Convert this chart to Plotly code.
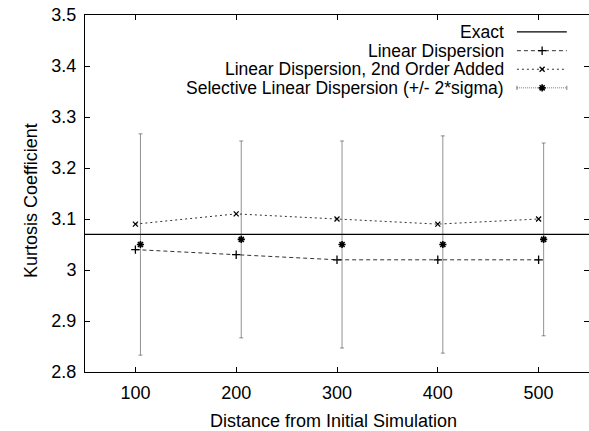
import plotly.graph_objects as go

distance = [100, 200, 300, 400, 500]
selective_x = [105, 205, 305, 405, 505]
exact_value = 3.07
linear = [3.04, 3.03, 3.02, 3.02, 3.02]
second_order = [3.09, 3.11, 3.10, 3.09, 3.10]
selective = [3.05, 3.06, 3.05, 3.05, 3.06]
selective_2sigma = [0.217, 0.193, 0.203, 0.213, 0.189]
y_ticks = [2.8, 2.9, 3.0, 3.1, 3.2, 3.3, 3.4, 3.5]
y_tick_labels = ["2.8", "2.9", "3", "3.1", "3.2", "3.3", "3.4", "3.5"]
x_ticks = [100, 200, 300, 400, 500]

names = ["Exact", "Linear Dispersion", "Linear Dispersion, 2nd Order Added",
         "Selective Linear Dispersion (+/- 2*sigma)"]

FONT = "Liberation Sans, Arial, Helvetica, sans-serif"
FS = 18
LFS = 17.5
INK = "#333333"

fig = go.Figure()

fig.add_trace(go.Scatter(x=[50, 550], y=[exact_value, exact_value], mode="lines",
                         line=dict(color="black", width=1.3), showlegend=False))
fig.add_trace(go.Scatter(x=distance, y=linear, mode="lines+markers",
                         line=dict(color=INK, width=1, dash="4px,3px"),
                         marker=dict(symbol="cross-thin", size=6, line=dict(color="black", width=1.3)),
                         showlegend=False))
fig.add_trace(go.Scatter(x=distance, y=second_order, mode="lines+markers",
                         line=dict(color=INK, width=1, dash="2px,3px"),
                         marker=dict(symbol="x-thin", size=5, line=dict(color="black", width=1.3)),
                         showlegend=False))
fig.add_trace(go.Scatter(x=selective_x, y=selective, mode="markers",
                         marker=dict(symbol="asterisk", size=6, line=dict(color="black", width=1.6)),
                         error_y=dict(type="data", array=selective_2sigma, visible=True,
                                      color="rgba(40,40,40,0.5)", thickness=1, width=2),
                         showlegend=False))

# Legend drawn gnuplot-style (text left of sample) on an overlay axis in [0,1]
ly = [0.953, 0.900, 0.848, 0.796]
x0, x1, xm = 0.857, 0.956, 0.907
styles = [
    dict(line=dict(color="black", width=1.3), sym=None),
    dict(line=dict(color=INK, width=1, dash="4px,3px"), sym=("cross-thin", 6, 1.3)),
    dict(line=dict(color=INK, width=1, dash="2px,3px"), sym=("x-thin", 5, 1.3)),
    dict(line=dict(color="rgba(40,40,40,0.6)", width=1, dash="1px,1px"), sym=("asterisk", 6, 1.6)),
]
for i, (name, st) in enumerate(zip(names, styles)):
    fig.add_trace(go.Scatter(x=[x0, x1], y=[ly[i], ly[i]], mode="lines", line=st["line"],
                             xaxis="x2", yaxis="y2", showlegend=False, hoverinfo="skip"))
    if st["sym"]:
        s, sz, w = st["sym"]
        fig.add_trace(go.Scatter(x=[xm], y=[ly[i]], mode="markers",
                                 marker=dict(symbol=s, size=sz, line=dict(color="black", width=w)),
                                 xaxis="x2", yaxis="y2", showlegend=False, hoverinfo="skip"))
    fig.add_annotation(x=0.833, y=ly[i], xref="x2", yref="y2", text=name, showarrow=False,
                       xanchor="right", yanchor="middle", borderpad=0,
                       font=dict(size=LFS, color="black", family=FONT))
# end ticks of the error-bar sample
fig.add_trace(go.Scatter(x=[x0, x0, None, x1, x1], y=[ly[3] - 0.006, ly[3] + 0.006, None, ly[3] - 0.006, ly[3] + 0.006],
                         mode="lines", line=dict(color="rgba(40,40,40,0.6)", width=1),
                         xaxis="x2", yaxis="y2", showlegend=False, hoverinfo="skip"))

fig.add_annotation(x=-0.107, y=0.479, xref="paper", yref="paper", text="Kurtosis Coefficient",
                   textangle=-90, showarrow=False, xanchor="center", yanchor="middle", borderpad=0,
                   font=dict(size=FS, color="black", family=FONT))
fig.add_annotation(x=0.494, y=-0.136, xref="paper", yref="paper", text="Distance from Initial Simulation",
                   showarrow=False, xanchor="center", yanchor="middle", borderpad=0,
                   font=dict(size=FS, color="black", family=FONT))

axis_common = dict(showline=True, linecolor="black", linewidth=1, mirror="ticks",
                   ticks="inside", ticklen=5, tickcolor="black", showgrid=False, zeroline=False,
                   automargin=False, tickfont=dict(size=FS, color="black", family=FONT))
fig.update_layout(
    width=589, height=431,
    margin=dict(l=85, r=0, t=15, b=59, autoexpand=False),
    paper_bgcolor="white", plot_bgcolor="white",
    font=dict(family=FONT, size=FS, color="black"),
    xaxis=dict(range=[50, 550], tickvals=x_ticks, ticklabelstandoff=4, **axis_common),
    yaxis=dict(range=[2.8, 3.5], tickvals=y_ticks, ticktext=y_tick_labels, ticklabelstandoff=4,
               **axis_common),
    xaxis2=dict(range=[0, 1], overlaying="x", visible=False, fixedrange=True),
    yaxis2=dict(range=[0, 1], overlaying="y", visible=False, fixedrange=True),
    showlegend=False,
)

fig.write_html("out.html", config={"displayModeBar": False, "staticPlot": True},
               post_script="document.documentElement.style.margin='0';document.body.style.margin='0';"
                           "document.body.style.overflow='hidden';")
